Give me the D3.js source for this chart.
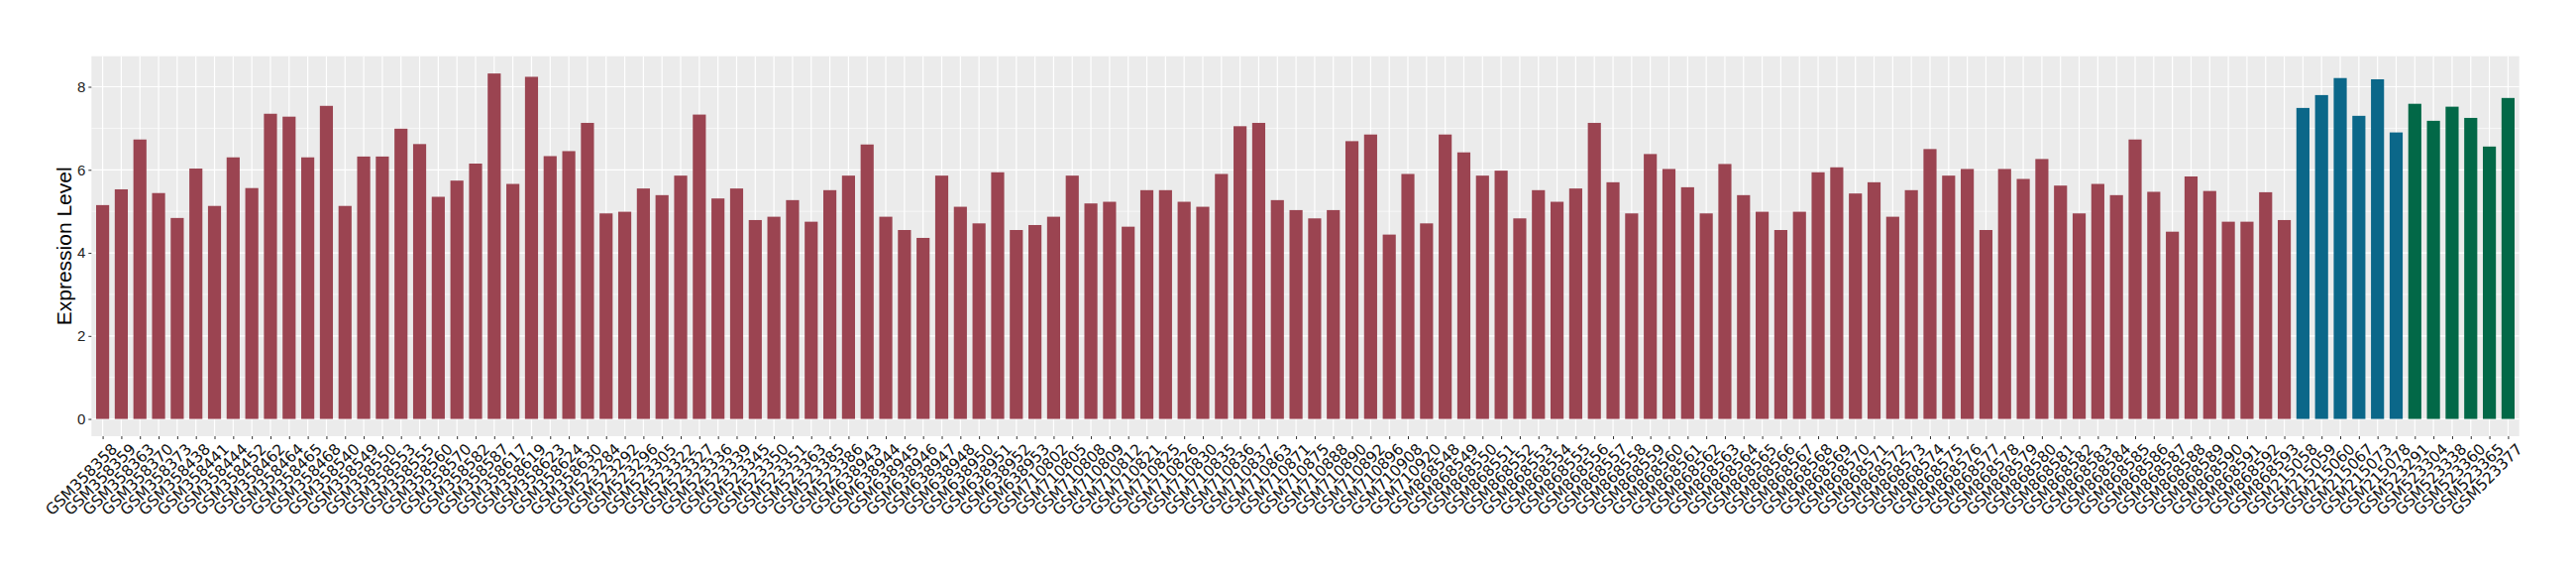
<!DOCTYPE html>
<html>
<head>
<meta charset="utf-8">
<script src="https://d3js.org/d3.v7.min.js"></script>
<style>
body { margin: 0; background: white; }
</style>
</head>
<body>
<svg id="chart"></svg>
<script>
// sample ids, one per bar
var samples = [
    "GSM358358", "GSM358359", "GSM358363", "GSM358370", "GSM358373", "GSM358438", "GSM358441", "GSM358444",
    "GSM358452", "GSM358462", "GSM358464", "GSM358465", "GSM358468", "GSM358540", "GSM358549", "GSM358550",
    "GSM358553", "GSM358555", "GSM358560", "GSM358570", "GSM358582", "GSM358587", "GSM358617", "GSM358619",
    "GSM358623", "GSM358624", "GSM358630",
    "GSM523284", "GSM523292", "GSM523296", "GSM523305", "GSM523322", "GSM523327", "GSM523336", "GSM523339",
    "GSM523345", "GSM523350", "GSM523351", "GSM523363", "GSM523385", "GSM523386",
    "GSM638943", "GSM638944", "GSM638945", "GSM638946", "GSM638947", "GSM638948", "GSM638950", "GSM638951",
    "GSM638952", "GSM638953",
    "GSM710802", "GSM710805", "GSM710808", "GSM710809", "GSM710812", "GSM710821", "GSM710825", "GSM710826",
    "GSM710830", "GSM710835", "GSM710836", "GSM710837", "GSM710863", "GSM710871", "GSM710875", "GSM710888",
    "GSM710890", "GSM710892", "GSM710896", "GSM710908", "GSM710920",
    "GSM868548", "GSM868549", "GSM868550", "GSM868551", "GSM868552", "GSM868553", "GSM868554", "GSM868555",
    "GSM868556", "GSM868557", "GSM868558", "GSM868559", "GSM868560", "GSM868561", "GSM868562", "GSM868563",
    "GSM868564", "GSM868565", "GSM868566", "GSM868567", "GSM868568", "GSM868569", "GSM868570", "GSM868571",
    "GSM868572", "GSM868573", "GSM868574", "GSM868575", "GSM868576", "GSM868577", "GSM868578", "GSM868579",
    "GSM868580", "GSM868581", "GSM868582", "GSM868583", "GSM868584", "GSM868585", "GSM868586", "GSM868587",
    "GSM868588", "GSM868589", "GSM868590", "GSM868591", "GSM868592", "GSM868593",
    "GSM215058", "GSM215059", "GSM215060", "GSM215067", "GSM215073", "GSM215078",
    "GSM523291", "GSM523304", "GSM523338", "GSM523360", "GSM523365", "GSM523377"
];

var values = [
    5.15, 5.53, 6.73, 5.44, 4.84, 6.03, 5.13, 6.30, 5.56, 7.35, 7.28, 6.30, 7.54, 5.13, 6.32, 6.32,
    6.99, 6.62, 5.35, 5.74, 6.15, 8.32, 5.66, 8.24, 6.33, 6.45, 7.13,
    4.95, 4.99, 5.55, 5.39, 5.86, 7.33, 5.31, 5.55, 4.79, 4.87, 5.27, 4.75, 5.51,
    5.86, 6.61, 4.87, 4.55, 4.36, 5.86, 5.11, 4.71, 5.94, 4.55, 4.67,
    4.87, 5.86, 5.19, 5.23, 4.63, 5.51, 5.51, 5.23, 5.11, 5.90, 7.05, 7.13, 5.27, 5.03, 4.83, 5.03,
    6.69, 6.85, 4.44, 5.90, 4.71,
    6.85, 6.42, 5.86, 5.98, 4.83, 5.51, 5.23, 5.55, 7.13, 5.70, 4.95, 6.38, 6.02, 5.58, 4.95, 6.14,
    5.39, 4.99, 4.55, 4.99, 5.94, 6.06, 5.43, 5.70, 4.87, 5.51, 6.50, 5.86, 6.02, 4.55, 6.02, 5.78,
    6.26, 5.62, 4.95, 5.66, 5.39, 6.73, 5.47, 4.51, 5.84, 5.49, 4.75, 4.75, 5.46, 4.79,
    7.49, 7.80, 8.21, 7.30, 8.18, 6.90,
    7.59, 7.18, 7.52, 7.25, 6.56, 7.73
];

// group of each bar: 118 red, 6 blue, 6 green
var groupSizes = [118, 6, 6];
var groupColors = ["#9b4451", "#0b6789", "#026847"];

var yTicks = [0, 2, 4, 6, 8];
var yMinor = [1, 3, 5, 7];

var width = 2600,
    height = 580;
var pLeft = 92.3, pRight = 2542.7, pTop = 56.7, pBottom = 440;

var data = samples.map(function (s, i) {
    var g = 0, acc = groupSizes[0];
    while (i >= acc) { g++; acc += groupSizes[g]; }
    return { sample: s, value: values[i], group: g };
});

var svg = d3.select("#chart")
    .attr("width", width)
    .attr("height", height);

var x = d3.scalePoint()
    .domain(samples)
    .range([pLeft, pRight])
    .padding(0.6);

var vmax = d3.max(values);
var y = d3.scaleLinear()
    .domain([-0.05 * vmax, vmax * 1.05])
    .range([pBottom, pTop]);

var barW = x.step() * 0.7;

// panel
svg.append("rect")
    .attr("x", pLeft)
    .attr("y", pTop)
    .attr("width", pRight - pLeft)
    .attr("height", pBottom - pTop)
    .attr("fill", "#ebebeb");

svg.append("g")
    .selectAll("line")
    .data(yMinor)
    .enter()
    .append("line")
    .attr("x1", pLeft).attr("x2", pRight)
    .attr("y1", function (d) { return y(d); })
    .attr("y2", function (d) { return y(d); })
    .attr("stroke", "white")
    .attr("stroke-width", 0.6);

svg.append("g")
    .selectAll("line")
    .data(yTicks)
    .enter()
    .append("line")
    .attr("x1", pLeft).attr("x2", pRight)
    .attr("y1", function (d) { return y(d); })
    .attr("y2", function (d) { return y(d); })
    .attr("stroke", "white")
    .attr("stroke-width", 1.2);

svg.append("g")
    .selectAll("line")
    .data(samples)
    .enter()
    .append("line")
    .attr("x1", function (d) { return x(d); })
    .attr("x2", function (d) { return x(d); })
    .attr("y1", pTop).attr("y2", pBottom)
    .attr("stroke", "white")
    .attr("stroke-width", 1.2);

// bars
svg.append("g")
    .selectAll("rect")
    .data(data)
    .enter()
    .append("rect")
    .attr("x", function (d) { return x(d.sample) - barW / 2; })
    .attr("width", barW)
    .attr("y", function (d) { return y(d.value); })
    .attr("height", function (d) { return y(0) - y(d.value); })
    .attr("fill", function (d) { return groupColors[d.group]; });

// y axis
var yAxis = svg.append("g")
    .attr("transform", "translate(" + pLeft + ",0)")
    .call(d3.axisLeft(y).tickValues(yTicks).tickSize(3).tickPadding(3));
yAxis.select(".domain").remove();
yAxis.selectAll("line").attr("stroke", "#333");
yAxis.selectAll("text")
    .attr("font-family", "Liberation Sans, Arial, sans-serif")
    .attr("font-size", 15)
    .attr("fill", "#222");

// x axis
var xAxis = svg.append("g")
    .attr("transform", "translate(0," + pBottom + ")")
    .call(d3.axisBottom(x).tickSize(3).tickPadding(2));
xAxis.select(".domain").remove();
xAxis.selectAll("line").attr("stroke", "#333");
xAxis.selectAll("text")
    .attr("font-family", "DejaVu Sans, sans-serif")
    .attr("font-size", 15.5)
    .attr("fill", "#111")
    .attr("text-anchor", "end")
    .attr("dy", "0.6em")
    .attr("transform", "translate(5,4) rotate(-45)");

svg.append("text")
    .attr("transform", "translate(72," + ((pTop + pBottom) / 2) + ") rotate(-90)")
    .attr("text-anchor", "middle")
    .attr("font-family", "Liberation Sans, Arial, sans-serif")
    .attr("font-size", 21)
    .attr("fill", "#000")
    .text("Expression Level");
</script>
</body>
</html>
